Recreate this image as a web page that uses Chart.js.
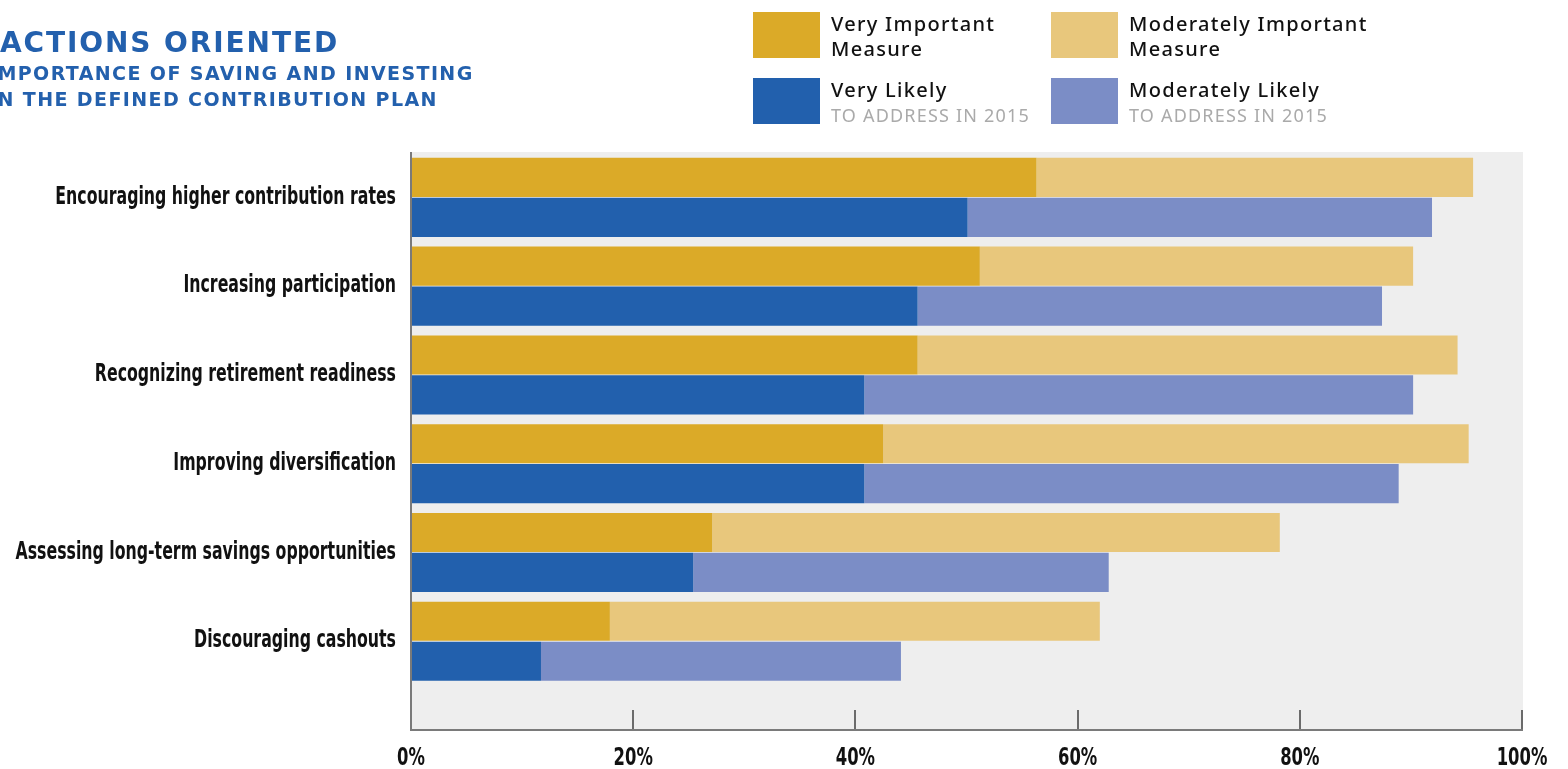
<!DOCTYPE html>
<html lang="en">
<head>
<meta charset="UTF-8">
<title>Actions Oriented</title>
<style>
  body { margin: 0; background: #fff; }
  #wrap { position: relative; width: 1568px; height: 769px; overflow: hidden; }
  #chart-box { position: absolute; left: 0; top: 0; width: 1568px; height: 769px; }
  .title { position: absolute; color: #2360ad; font-family: "DejaVu Sans", sans-serif; font-weight: bold; white-space: nowrap; }
  #t1 { left: 0; top: 26px; font-size: 28px; letter-spacing: 1.9px; }
  #t2 { left: -11px; top: 60px; font-size: 19px; letter-spacing: 1.4px; line-height: 26px; }
  .lg { position: absolute; font-family: "Noto Sans", sans-serif; }
  .sw { position: absolute; width: 67px; height: 46px; }
  .lt { position: absolute; font-size: 20px; font-weight: 500; line-height: 25px; color: #111; letter-spacing: 1.3px; white-space: nowrap; }
  .lt span { color: #aaa; font-size: 18px; font-weight: 400; letter-spacing: 1.2px; }
</style>
</head>
<body>
<div id="wrap">
  <div id="chart-box"><canvas id="myChart"></canvas></div>
  <div class="title" id="t1">ACTIONS ORIENTED</div>
  <div class="title" id="t2">IMPORTANCE OF SAVING AND INVESTING<br>IN THE DEFINED CONTRIBUTION PLAN</div>
  <div id="legend"></div>
</div>

<script src="https://cdn.jsdelivr.net/npm/chart.js@4.4.1/dist/chart.umd.min.js"></script>
<script>
const categories = [
  'Encouraging higher contribution rates',
  'Increasing participation',
  'Recognizing retirement readiness',
  'Improving diversification',
  'Assessing long-term savings opportunities',
  'Discouraging cashouts'
]
// percent of respondents
const veryImportant = [56.3, 51.2, 45.6, 42.5, 27.1, 17.9]
const moderatelyImportant = [39.3, 39.0, 48.6, 52.7, 51.1, 44.1]
const veryLikely = [50.1, 45.6, 40.8, 40.8, 25.4, 11.7]
const moderatelyLikely = [41.8, 41.8, 49.4, 48.1, 37.4, 32.4]
const xTicks = [0, 20, 40, 60, 80, 100]

const colors = {
        veryImp: '#dbaa28',
        modImp: '#e8c77c',
        veryLik: '#2260ad',
        modLik: '#7b8dc6'
}

// legend (html, laid out like the original)
const legendItems = [
        { color: colors.veryImp, title: 'Very Important', sub: 'Measure', x: 753, y: 12, grey: false },
        { color: colors.modImp, title: 'Moderately Important', sub: 'Measure', x: 1051, y: 12, grey: false },
        { color: colors.veryLik, title: 'Very Likely', sub: 'TO ADDRESS IN 2015', x: 753, y: 78, grey: true },
        { color: colors.modLik, title: 'Moderately Likely', sub: 'TO ADDRESS IN 2015', x: 1051, y: 78, grey: true }
]
const legendEl = document.getElementById('legend')
legendItems.forEach(it => {
        const sw = document.createElement('div')
        sw.className = 'lg sw'
        sw.style.left = it.x + 'px'
        sw.style.top = it.y + 'px'
        sw.style.background = it.color
        legendEl.appendChild(sw)
        const t = document.createElement('div')
        t.className = 'lg lt'
        t.style.left = (it.x + 78) + 'px'
        t.style.top = (it.y - 1) + 'px'
        t.innerHTML = it.title + '<br>' + (it.grey ? '<span>' + it.sub + '</span>' : it.sub)
        legendEl.appendChild(t)
})

const toPoints = arr => arr.map((v, i) => ({ x: v, y: i }))

const plotBg = {
        id: 'plotBg',
        beforeDraw(chart) {
                const { ctx, chartArea: a } = chart
                ctx.save()
                ctx.fillStyle = '#eeeeee'
                ctx.fillRect(a.left, a.top - 1, a.right - a.left + 1, a.bottom - a.top + 1)
                ctx.restore()
        }
}

// the original uses a narrow condensed face; squeeze each tick label around its anchor
function condense(scale, k) {
        if (scale._condensed) return
        scale._condensed = true
        const orig = scale.drawLabels.bind(scale)
        scale.drawLabels = function (area) {
                const ctx = this.ctx
                const ft = ctx.fillText
                ctx.fillText = function (t, x, y, mw) {
                        this.save()
                        this.translate(x, y)
                        this.scale(k, 1)
                        ft.call(this, t, 0, 0, mw)
                        this.restore()
                }
                orig(area)
                ctx.fillText = ft
        }
}

const labelFont = '"DejaVu Sans Condensed", "DejaVu Sans", sans-serif'

new Chart(document.getElementById('myChart'), {
        type: 'bar',
        data: {
                datasets: [
                        { label: 'Very Important Measure', data: toPoints(veryImportant), backgroundColor: colors.veryImp, stack: 'imp' },
                        { label: 'Moderately Important Measure', data: toPoints(moderatelyImportant), backgroundColor: colors.modImp, stack: 'imp' },
                        { label: 'Very Likely to address in 2015', data: toPoints(veryLikely), backgroundColor: colors.veryLik, stack: 'lik' },
                        { label: 'Moderately Likely to address in 2015', data: toPoints(moderatelyLikely), backgroundColor: colors.modLik, stack: 'lik' }
                ]
        },
        options: {
                indexAxis: 'y',
                responsive: true,
                maintainAspectRatio: false,
                animation: false,
                categoryPercentage: 0.9,
                barPercentage: 0.98,
                layout: { padding: { top: 153, right: 46, left: 0, bottom: 0 } },
                plugins: { legend: { display: false }, tooltip: { enabled: false } },
                scales: {
                        x: {
                                type: 'linear',
                                min: 0,
                                max: 100,
                                afterBuildTicks: s => { s.ticks = xTicks.map(v => ({ value: v })) },
                                afterFit: s => {
                                        s.height = 39
                                        s.paddingLeft = 0
                                        s.paddingRight = 0
                                        condense(s, 0.76)
                                },
                                grid: { drawOnChartArea: false, drawTicks: true, tickLength: -20, color: '#6b6b6b', lineWidth: 2 },
                                border: { display: true, color: '#7a7a7a', width: 2 },
                                ticks: {
                                        padding: 34,
                                        color: '#111',
                                        font: { family: labelFont, size: 24, weight: 'bold' },
                                        callback: v => v + '%'
                                }
                        },
                        y: {
                                type: 'linear',
                                reverse: true,
                                offset: false,
                                min: -0.5,
                                max: 6,
                                afterBuildTicks: s => { s.ticks = categories.map((c, i) => ({ value: i })) },
                                afterFit: s => {
                                        s.width = 411
                                        condense(s, 0.73)
                                },
                                grid: { display: false, drawTicks: false, offset: false },
                                border: { display: true, color: '#7a7a7a', width: 2 },
                                ticks: {
                                        autoSkip: false,
                                        padding: 15,
                                        color: '#111',
                                        font: { family: labelFont, size: 24, weight: 'bold' },
                                        callback: v => categories[v]
                                }
                        }
                }
        },
        plugins: [plotBg]
})
</script>
</body>
</html>
